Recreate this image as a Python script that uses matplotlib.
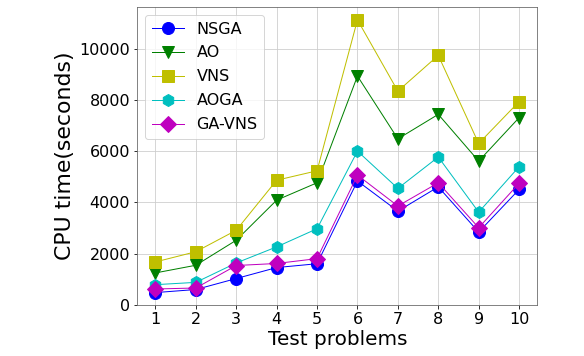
import matplotlib
matplotlib.use("Agg")
import matplotlib.pyplot as plt

problems = [1, 2, 3, 4, 5, 6, 7, 8, 9, 10]
nsga = [470, 590, 1020, 1450, 1600, 4840, 3660, 4610, 2840, 4510]
ao = [1240, 1540, 2520, 4090, 4770, 8950, 6490, 7450, 5620, 7320]
vns = [1670, 2070, 2910, 4870, 5240, 11150, 8360, 9760, 6310, 7950]
aoga = [780, 870, 1630, 2260, 2970, 6010, 4550, 5780, 3620, 5400]
gavns = [610, 650, 1530, 1610, 1800, 5070, 3860, 4770, 3010, 4750]

DPI = 72
fig = plt.figure(figsize=(584 / DPI, 356 / DPI), dpi=DPI)
ax = fig.add_axes([0.235, 0.143, 0.685, 0.837])

ax.plot(problems, nsga, 'b-o', lw=1, ms=12, label='NSGA')
ax.plot(problems, ao, 'g-v', lw=1, ms=12, label='AO')
ax.plot(problems, vns, 'y-s', lw=1, ms=12, label='VNS')
ax.plot(problems, aoga, 'c-h', lw=1, ms=12, label='AOGA')
ax.plot(problems, gavns, 'm-D', lw=1, ms=11, label='GA-VNS')

ax.set_xticks(problems)
ax.set_yticks([0, 2000, 4000, 6000, 8000, 10000])
ax.tick_params(labelsize=16)
ax.set_xlabel('Test problems', fontsize=20, labelpad=3)
ax.set_ylabel('CPU time(seconds)', fontsize=22, labelpad=4)
ax.grid(True, color='#cccccc', lw=0.8)
ax.legend(loc='upper left', fontsize=16, handlelength=2, labelspacing=0.56)
ax.set_ylim(-20, 11650)
for s in ax.spines.values():
    s.set_color('#666666')

fig.savefig('out.png', dpi=DPI)
